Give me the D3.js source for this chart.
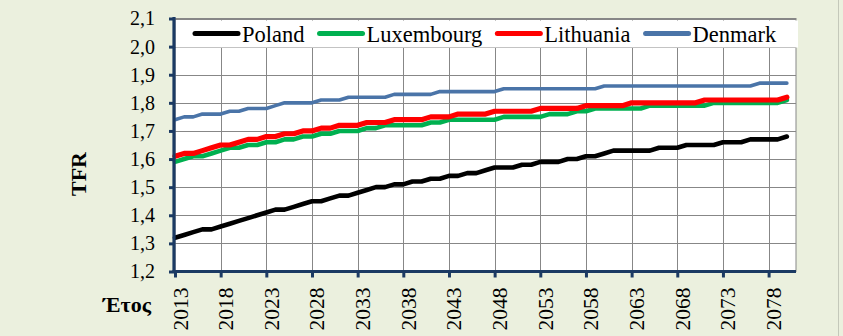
<!DOCTYPE html>
<html>
<head>
<meta charset="utf-8">
<script src="https://cdn.jsdelivr.net/npm/d3@7/dist/d3.min.js"></script>
<style>
  html, body { margin: 0; padding: 0; background: #EBF0DE; }
  svg { display: block; }
  text { font-family: "Liberation Serif", "Times New Roman", serif; fill: #000; }
</style>
</head>
<body>
<svg id="chart" width="843" height="336"></svg>
<script>
// Projected total fertility rate (TFR), 2013–2080
const years = [
  2013, 2014, 2015, 2016, 2017, 2018, 2019, 2020, 2021, 2022,
  2023, 2024, 2025, 2026, 2027, 2028, 2029, 2030, 2031, 2032,
  2033, 2034, 2035, 2036, 2037, 2038, 2039, 2040, 2041, 2042,
  2043, 2044, 2045, 2046, 2047, 2048, 2049, 2050, 2051, 2052,
  2053, 2054, 2055, 2056, 2057, 2058, 2059, 2060, 2061, 2062,
  2063, 2064, 2065, 2066, 2067, 2068, 2069, 2070, 2071, 2072,
  2073, 2074, 2075, 2076, 2077, 2078, 2079, 2080
];

const poland = [
  1.32, 1.33, 1.34, 1.35, 1.35, 1.36, 1.37, 1.38, 1.39, 1.40,
  1.41, 1.42, 1.42, 1.43, 1.44, 1.45, 1.45, 1.46, 1.47, 1.47,
  1.48, 1.49, 1.50, 1.50, 1.51, 1.51, 1.52, 1.52, 1.53, 1.53,
  1.54, 1.54, 1.55, 1.55, 1.56, 1.57, 1.57, 1.57, 1.58, 1.58,
  1.59, 1.59, 1.59, 1.60, 1.60, 1.61, 1.61, 1.62, 1.63, 1.63,
  1.63, 1.63, 1.63, 1.64, 1.64, 1.64, 1.65, 1.65, 1.65, 1.65,
  1.66, 1.66, 1.66, 1.67, 1.67, 1.67, 1.67, 1.68
];

const luxembourg = [
  1.59, 1.60, 1.61, 1.61, 1.62, 1.63, 1.64, 1.64, 1.65, 1.65,
  1.66, 1.66, 1.67, 1.67, 1.68, 1.68, 1.69, 1.69, 1.70, 1.70,
  1.70, 1.71, 1.71, 1.72, 1.72, 1.72, 1.72, 1.72, 1.73, 1.73,
  1.74, 1.74, 1.74, 1.74, 1.74, 1.74, 1.75, 1.75, 1.75, 1.75,
  1.75, 1.76, 1.76, 1.76, 1.77, 1.77, 1.78, 1.78, 1.78, 1.78,
  1.78, 1.78, 1.79, 1.79, 1.79, 1.79, 1.79, 1.79, 1.79, 1.80,
  1.80, 1.80, 1.80, 1.80, 1.80, 1.80, 1.80, 1.81
];

const lithuania = [
  1.61, 1.62, 1.62, 1.63, 1.64, 1.65, 1.65, 1.66, 1.67, 1.67,
  1.68, 1.68, 1.69, 1.69, 1.70, 1.70, 1.71, 1.71, 1.72, 1.72,
  1.72, 1.73, 1.73, 1.73, 1.74, 1.74, 1.74, 1.74, 1.75, 1.75,
  1.75, 1.76, 1.76, 1.76, 1.76, 1.77, 1.77, 1.77, 1.77, 1.77,
  1.78, 1.78, 1.78, 1.78, 1.78, 1.79, 1.79, 1.79, 1.79, 1.79,
  1.80, 1.80, 1.80, 1.80, 1.80, 1.80, 1.80, 1.80, 1.81, 1.81,
  1.81, 1.81, 1.81, 1.81, 1.81, 1.81, 1.81, 1.82
];

const denmark = [
  1.74, 1.75, 1.75, 1.76, 1.76, 1.76, 1.77, 1.77, 1.78, 1.78,
  1.78, 1.79, 1.80, 1.80, 1.80, 1.80, 1.81, 1.81, 1.81, 1.82,
  1.82, 1.82, 1.82, 1.82, 1.83, 1.83, 1.83, 1.83, 1.83, 1.84,
  1.84, 1.84, 1.84, 1.84, 1.84, 1.84, 1.85, 1.85, 1.85, 1.85,
  1.85, 1.85, 1.85, 1.85, 1.85, 1.85, 1.85, 1.86, 1.86, 1.86,
  1.86, 1.86, 1.86, 1.86, 1.86, 1.86, 1.86, 1.86, 1.86, 1.86,
  1.86, 1.86, 1.86, 1.86, 1.87, 1.87, 1.87, 1.87
];

const seriesNames = ["Poland", "Luxembourg", "Lithuania", "Denmark"];
const seriesValues = [poland, luxembourg, lithuania, denmark];
const seriesColors = ["#000000", "#00B050", "#FF0000", "#4A74A8"];
const seriesWidths = [4.6, 4.6, 5.2, 3.6];

const yTicks = [1.2, 1.3, 1.4, 1.5, 1.6, 1.7, 1.8, 1.9, 2.0, 2.1];
const xTicks = [2013, 2018, 2023, 2028, 2033, 2038, 2043, 2048, 2053, 2058, 2063, 2068, 2073, 2078];
const yTitle = "TFR";
const xTitle = "Έτος";

const svg = d3.select("#chart");
const W = 843, H = 336;
const plot = { left: 175, right: 796, top: 18.5, bottom: 271.5 };
const axisColor = "#1B3A63";
const gridColor = "#878787";

const x = d3.scaleLinear().domain([2013, 2081]).range([plot.left, plot.right]);
const y = d3.scaleLinear().domain([1.2, 2.1]).range([plot.bottom, plot.top]);
const fmt = d3.formatLocale({ decimal: ",", thousands: ".", grouping: [3], currency: ["", "€"] }).format(".1f");

// chart area background and outer edge
svg.append("rect").attr("width", W).attr("height", H).attr("fill", "#EBF0DE");
svg.append("line").attr("x1", 838.5).attr("x2", 838.5).attr("y1", 0).attr("y2", H)
  .attr("stroke", "#C4C8BA").attr("stroke-width", 1);

// plot area
svg.append("rect")
  .attr("x", plot.left).attr("y", plot.top)
  .attr("width", plot.right - plot.left).attr("height", plot.bottom - plot.top)
  .attr("fill", "#fff").attr("stroke", gridColor).attr("stroke-width", 1);

// gridlines
svg.append("g").selectAll("line").data(yTicks.slice(1)).join("line")
  .attr("x1", plot.left).attr("x2", plot.right)
  .attr("y1", d => Math.round(y(d)) + 0.5).attr("y2", d => Math.round(y(d)) + 0.5)
  .attr("stroke", gridColor).attr("stroke-width", 1);
svg.append("g").selectAll("line").data(xTicks.slice(1)).join("line")
  .attr("x1", d => Math.round(x(d)) + 0.5).attr("x2", d => Math.round(x(d)) + 0.5)
  .attr("y1", plot.top).attr("y2", plot.bottom)
  .attr("stroke", gridColor).attr("stroke-width", 1);

// series lines
const line = d3.line().x((d, i) => x(years[i])).y(d => y(d));
seriesValues.forEach((vals, k) => {
  svg.append("path").datum(vals)
    .attr("d", line)
    .attr("fill", "none")
    .attr("stroke", seriesColors[k])
    .attr("stroke-width", seriesWidths[k])
    .attr("stroke-linejoin", "round")
    .attr("stroke-linecap", "round");
});

// legend band
const legend = svg.append("g");
legend.append("rect")
  .attr("x", plot.left + 1).attr("y", 20.5)
  .attr("width", plot.right - plot.left + 1).attr("height", 27)
  .attr("fill", "#fff");
let lx = 195;
seriesNames.forEach((name, k) => {
  legend.append("line")
    .attr("x1", lx).attr("x2", lx + 43).attr("y1", 33.5).attr("y2", 33.5)
    .attr("stroke", seriesColors[k]).attr("stroke-width", 5).attr("stroke-linecap", "round");
  const t = legend.append("text")
    .attr("x", lx + 47).attr("y", 41.5)
    .attr("font-size", 22.5)
    .text(name);
  lx += 47 + t.node().getComputedTextLength() + 15;
});

// y axis
const yAxis = svg.append("g")
  .attr("transform", `translate(${plot.left - 1},0)`)
  .call(d3.axisLeft(y).tickValues(yTicks).tickFormat(fmt).tickSize(5).tickPadding(14));
yAxis.select(".domain").attr("stroke", axisColor).attr("stroke-width", 3.2)
  .attr("d", `M0,${plot.top - 1.5}V${plot.bottom + 1.5}`);
yAxis.selectAll(".tick line").attr("stroke", axisColor).attr("stroke-width", 3);
yAxis.selectAll(".tick text")
  .attr("font-family", "'Liberation Serif', 'Times New Roman', serif")
  .attr("font-size", 20).attr("fill", "#000");

// x axis
const xAxis = svg.append("g")
  .attr("transform", `translate(0,${plot.bottom})`)
  .call(d3.axisBottom(x).tickValues(xTicks).tickFormat(d3.format("d")).tickSize(6));
xAxis.select(".domain").attr("stroke", axisColor).attr("stroke-width", 3.2)
  .attr("d", `M${plot.left - 2.5},0H${plot.right}`);
xAxis.selectAll(".tick line").attr("stroke", axisColor).attr("stroke-width", 3);
xAxis.selectAll(".tick text")
  .attr("font-family", "'Liberation Serif', 'Times New Roman', serif")
  .attr("font-size", 21.5).attr("fill", "#000")
  .attr("text-anchor", "end")
  .attr("dy", null).attr("y", null)
  .attr("transform", "translate(12,16) rotate(-90)");

// axis titles
svg.append("text")
  .attr("transform", "translate(86,174) rotate(-90)")
  .attr("text-anchor", "middle")
  .attr("font-size", 22).attr("font-weight", "bold")
  .text(yTitle);
svg.append("text")
  .attr("x", 151).attr("y", 312)
  .attr("text-anchor", "end")
  .attr("font-size", 22).attr("font-weight", "bold")
  .text(xTitle);
</script>
</body>
</html>
